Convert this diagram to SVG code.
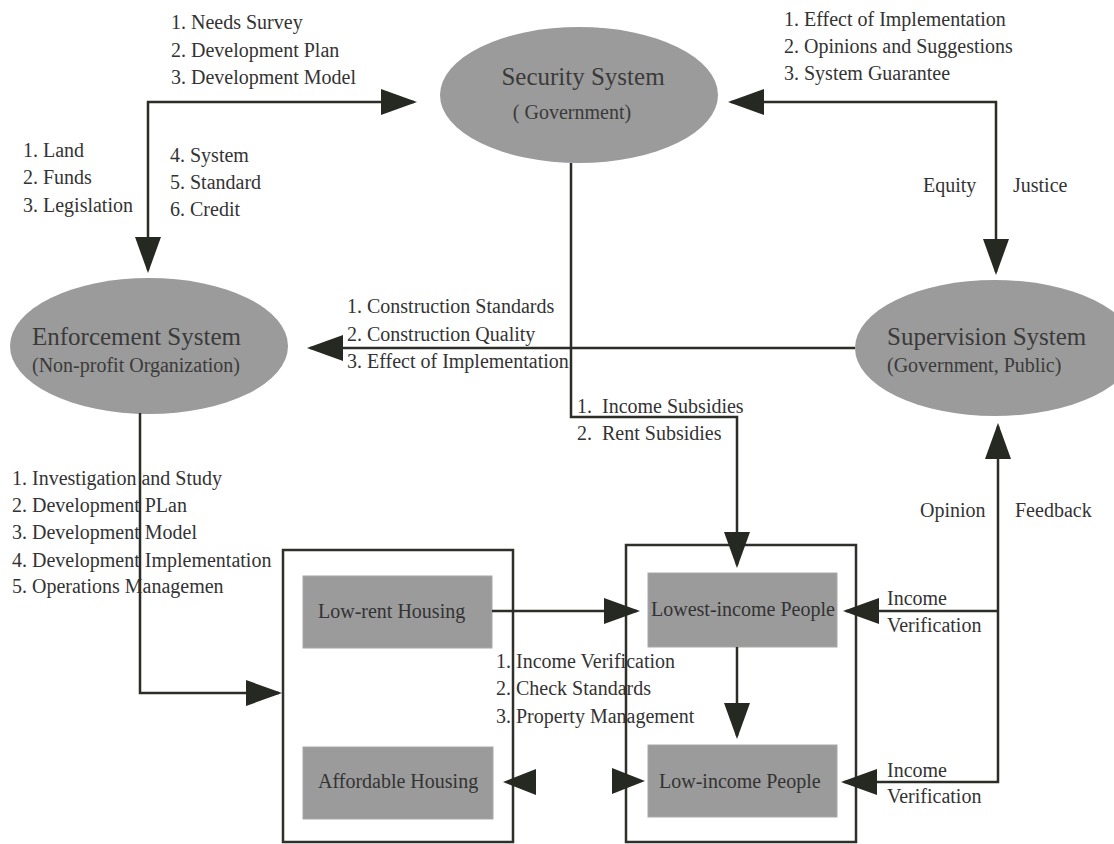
<svg xmlns="http://www.w3.org/2000/svg" width="1114" height="844" viewBox="0 0 1114 844">
<style>
text{font-family:"Liberation Serif","Times New Roman",serif;fill:#333;font-size:20px}
.title{font-size:25px;fill:#3a3a3a}
.sub{font-size:20px;fill:#3a3a3a}
.ell{fill:#9b9b9b}
.node{fill:#9b9b9b;stroke:#a8a8a8;stroke-width:1}
.box{fill:none;stroke:#2e302b;stroke-width:2.5}
.conn{fill:none;stroke:#2b2e27;stroke-width:2.5}
.head{fill:#252921}
</style>
<defs>
<marker id="ah" markerUnits="userSpaceOnUse" markerWidth="36" markerHeight="26" viewBox="0 0 36 26" refX="33" refY="13" orient="auto-start-reverse">
<path d="M0,0 L36,13 L0,26 Z" class="head"/>
</marker>
</defs>
<rect width="1114" height="844" fill="#fff"/>

<g id="security">
<ellipse class="ell" cx="579" cy="95" rx="139" ry="68"/>
<text class="title" x="583" y="85" text-anchor="middle">Security System</text>
<text class="sub" x="572" y="119" text-anchor="middle">( Government)</text>
</g>

<g id="enforcement">
<ellipse class="ell" cx="149" cy="346" rx="139" ry="68"/>
<text class="title" x="32" y="345">Enforcement System</text>
<text class="sub" x="32" y="372">(Non-profit Organization)</text>
</g>

<g id="supervision">
<ellipse class="ell" cx="995" cy="348" rx="140" ry="68"/>
<text class="title" x="887" y="345">Supervision System</text>
<text class="sub" x="887" y="372">(Government, Public)</text>
</g>

<g id="housing-box">
<rect class="box" x="283" y="550" width="230" height="292"/>
</g>
<g id="low-rent-housing">
<rect class="node" x="303" y="576" width="189" height="72"/>
<text x="318" y="618">Low-rent Housing</text>
</g>
<g id="affordable-housing">
<rect class="node" x="303" y="747" width="190" height="72"/>
<text x="318" y="788">Affordable Housing</text>
</g>

<g id="people-box">
<rect class="box" x="626" y="545" width="230" height="297"/>
</g>
<g id="lowest-income-people">
<rect class="node" x="648" y="573" width="189" height="74"/>
<text x="651" y="616">Lowest-income People</text>
</g>
<g id="low-income-people">
<rect class="node" x="648" y="745" width="189" height="72"/>
<text x="659" y="788">Low-income People</text>
</g>

<g id="labels">
<text x="171" y="29">1. Needs Survey</text>
<text x="171" y="57">2. Development Plan</text>
<text x="171" y="84">3. Development Model</text>
<text x="23" y="157">1. Land</text>
<text x="23" y="184">2. Funds</text>
<text x="23" y="212">3. Legislation</text>
<text x="170" y="162">4. System</text>
<text x="170" y="189">5. Standard</text>
<text x="170" y="216">6. Credit</text>
<text x="784" y="26">1. Effect of Implementation</text>
<text x="784" y="53">2. Opinions and Suggestions</text>
<text x="784" y="80">3. System Guarantee</text>
<text x="923" y="192">Equity</text>
<text x="1013" y="192">Justice</text>
<text x="347" y="313">1. Construction Standards</text>
<text x="347" y="341">2. Construction Quality</text>
<text x="347" y="368">3. Effect of Implementation</text>
<text x="577" y="413" xml:space="preserve">1.  Income Subsidies</text>
<text x="577" y="440" xml:space="preserve">2.  Rent Subsidies</text>
<text x="12" y="485">1. Investigation and Study</text>
<text x="12" y="512">2. Development PLan</text>
<text x="12" y="539">3. Development Model</text>
<text x="12" y="567">4. Development Implementation</text>
<text x="12" y="593">5. Operations Managemen</text>
<text x="496" y="668">1. Income Verification</text>
<text x="496" y="695">2. Check Standards</text>
<text x="496" y="723">3. Property Management</text>
<text x="920" y="517">Opinion</text>
<text x="1015" y="517">Feedback</text>
<text x="887" y="605">Income</text>
<text x="887" y="632">Verification</text>
<text x="887" y="777">Income</text>
<text x="887" y="803">Verification</text>
</g>

<g id="connectors">
<path class="conn" d="M148,270 V102 H414" marker-start="url(#ah)" marker-end="url(#ah)"/>
<path class="conn" d="M996,272 V102 H731" marker-start="url(#ah)" marker-end="url(#ah)"/>
<path class="conn" d="M855,348 H310" marker-end="url(#ah)"/>
<path class="conn" d="M571,163 V417 H737 V565" marker-end="url(#ah)"/>
<path class="conn" d="M140,413 V693 H279" marker-end="url(#ah)"/>
<path class="conn" d="M492,611 H637" marker-end="url(#ah)"/>
<path class="conn" d="M737,647 V736" marker-end="url(#ah)"/>
<path class="conn" d="M844,782 H998 V426" marker-start="url(#ah)" marker-end="url(#ah)"/>
<path class="conn" d="M998,611 H846" marker-end="url(#ah)"/>
<polygon class="head" points="503,782 536,769 536,795"/>
<polygon class="head" points="645,781 612,768 612,794"/>
</g>
</svg>
